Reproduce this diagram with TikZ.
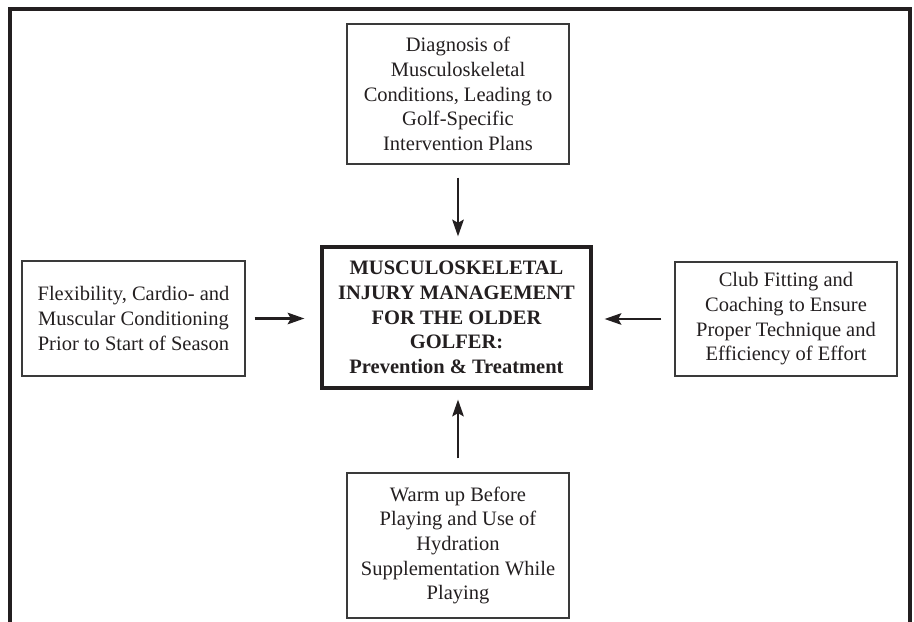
\documentclass[tikz,border=0pt]{standalone}
\usepackage{fontspec}
\setmainfont{Liberation Serif}
\usetikzlibrary{arrows.meta, positioning}
\definecolor{cink}{HTML}{231F20}
\definecolor{cgrey}{HTML}{3A3A3A}
\tikzset{
  every picture/.style={font=\fontsize{17.5}{21}\selectfont, text=cink},
  box/.style={draw=cgrey, line width=0.9pt, align=center, inner sep=3pt},
  hub/.style={draw=cink, line width=2.6pt, align=center, inner sep=3pt, font=\fontsize{17.5}{21}\selectfont\bfseries},
  arrow/.style={-{Stealth[length=5mm, width=3.4mm, inset=0.9mm]}, draw=cink, line width=2.5pt},
  frame/.style={draw=cink, line width=2.6pt},
}
\begin{document}
\begin{tikzpicture}[x=0.03cm, y=-0.03cm]
  \useasboundingbox (0,0) rectangle (914,622);
  \draw[frame] (10,622) -- (10,9) -- (910,9) -- (910,622);
  \node[hub, minimum width=8.07cm, minimum height=4.23cm] (core) at (456.5,317.5)
    {MUSCULOSKELETAL\\INJURY MANAGEMENT\\FOR THE OLDER\\GOLFER:\\Prevention \& Treatment};
  \node[box, minimum width=6.66cm, minimum height=4.2cm] (diag) at (458,94)
    {Diagnosis of\\Musculoskeletal\\Conditions, Leading to\\Golf-Specific\\Intervention Plans};
  \node[box, minimum width=6.69cm, minimum height=3.45cm] (flex) at (133.5,318.5)
    {Flexibility, Cardio- and\\Muscular Conditioning\\Prior to Start of Season};
  \node[box, minimum width=6.66cm, minimum height=3.42cm] (club) at (786,319)
    {Club Fitting and\\Coaching to Ensure\\Proper Technique and\\Efficiency of Effort};
  \node[box, minimum width=6.66cm, minimum height=4.35cm] (warm) at (458,545.5)
    {Warm up Before\\Playing and Use of\\Hydration\\Supplementation While\\Playing};
  % arrows into the hub
  \draw[arrow, shorten <=0.39cm, shorten >=0.27cm] (diag.south) -- (diag.south |- core.north);
  \draw[arrow, shorten <=0.42cm, shorten >=0.3cm] (warm.north) -- (warm.north |- core.south);
  \draw[arrow, shorten <=0.27cm, shorten >=0.48cm] (flex.east) -- (flex.east -| core.west);
  \draw[arrow, shorten <=0.39cm, shorten >=0.36cm] (club.west) -- (club.west -| core.east);
\end{tikzpicture}
\end{document}
